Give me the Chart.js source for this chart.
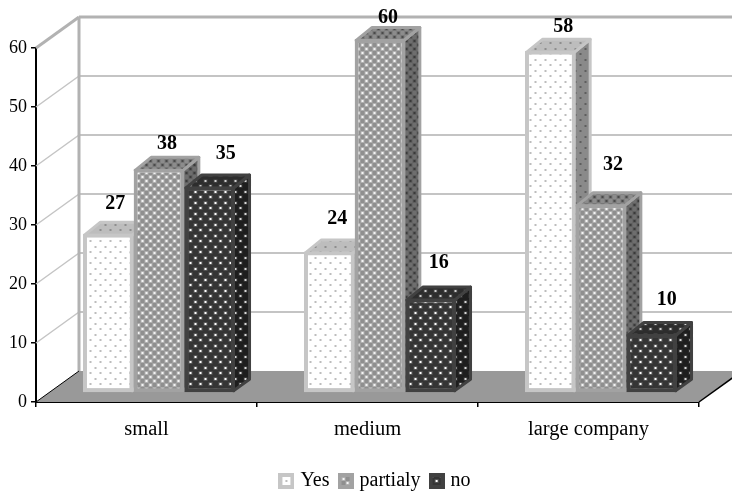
<!DOCTYPE html>
<html>
<head>
<meta charset="utf-8">
<title>Company size chart</title>
<style>html,body{margin:0;padding:0;background:#fff}canvas{display:block}</style>
<script src="https://cdn.jsdelivr.net/npm/chart.js@4/dist/chart.umd.min.js"></script>
</head>
<body>
<canvas id="c" width="732" height="491"></canvas>
<script>
const categories = ['small', 'medium', 'large company'];
const seriesNames = ['Yes', 'partialy', 'no'];
const yesValues = [27, 24, 58];
const partialyValues = [38, 60, 32];
const noValues = [35, 16, 10];
const yTicks = [0, 10, 20, 30, 40, 50, 60];

const SERIF = '"Liberation Serif", "Times New Roman", serif';
const WALL = {x: 43, y: 31};
const BARS = {x: 12.5, y: -9};
const DEPTH = {x: 16, y: 13};
const LABEL_LIFT = [[30, 33, 24], [25, 21, 39], [33, 36, 34]];
const LABEL_NUDGE = [[-1, 0, 5], [0, 0, 4], [8, 0, 7]];

function tile(w, h, bg, paint) {
  const cv = document.createElement('canvas');
  cv.width = w; cv.height = h;
  const g = cv.getContext('2d');
  g.fillStyle = bg; g.fillRect(0, 0, w, h);
  paint(g);
  return g.createPattern(cv, 'repeat');
}
function sparse(bg, dot, halo) {
  return tile(10, 11, bg, g => {
    if (halo) { g.fillStyle = halo; g.fillRect(1, 1, 4, 4); g.fillRect(6, 6, 4, 4); }
    g.fillStyle = dot; g.fillRect(2, 2, 2, 2); g.fillRect(7, 7, 2, 2);
  });
}
function dense(bg, dot, mid) {
  return tile(8, 8, bg, g => {
    g.fillStyle = mid; g.fillRect(0, 0, 4, 4); g.fillRect(4, 4, 4, 4);
    g.fillStyle = dot; g.fillRect(1, 1, 2, 2); g.fillRect(5, 5, 2, 2);
  });
}
const looks = [
  {edge: '#c6c6c6', front: sparse('#ffffff', '#bdbdbd'), top: sparse('#bdbdbd', '#8e8e8e'), side: sparse('#8a8a8a', '#5e5e5e')},
  {edge: '#a2a2a2', front: dense('#8f8f8f', '#f4f4f4', '#b0b0b0'), top: dense('#8c8c8c', '#4a4a4a', '#777777'), side: dense('#6e6e6e', '#3a3a3a', '#5e5e5e')},
  {edge: '#414141', front: sparse('#353535', '#ffffff', '#555555'), top: sparse('#2d2d2d', '#cfcfcf', '#3f3f3f'), side: sparse('#1e1e1e', '#d8d8d8', '#333333')}
];

function swatch(look) {
  const cv = document.createElement('canvas');
  cv.width = 16; cv.height = 16;
  const g = cv.getContext('2d');
  g.fillStyle = look.edge; g.fillRect(0, 0, 16, 16);
  g.fillStyle = look.front; g.fillRect(4, 4, 8, 8);
  return cv;
}
const swatches = looks.map(l => swatch(l));

function poly(ctx, pts, fill, edge) {
  ctx.beginPath();
  pts.forEach((p, i) => i ? ctx.lineTo(p[0], p[1]) : ctx.moveTo(p[0], p[1]));
  ctx.closePath();
  ctx.fillStyle = fill; ctx.fill();
  ctx.strokeStyle = edge; ctx.lineWidth = 3; ctx.lineJoin = 'round'; ctx.stroke();
}

function drawRoom(chart) {
  const {ctx, scales: {x, y}, width} = chart;
  const left = x.left, right = x.right;
  const floor = y.getPixelForValue(0);
  ctx.save();
  ctx.fillStyle = '#999999';
  ctx.beginPath();
  ctx.moveTo(left, floor);
  ctx.lineTo(left + WALL.x, floor - WALL.y);
  ctx.lineTo(right + WALL.x, floor - WALL.y);
  ctx.lineTo(right, floor);
  ctx.closePath();
  ctx.fill();
  yTicks.forEach(t => {
    if (t === 0) return;
    const py = y.getPixelForValue(t);
    const top = t === yTicks[yTicks.length - 1];
    ctx.strokeStyle = top ? '#b2b2b2' : '#c4c4c4';
    ctx.lineWidth = top ? 3 : 1.5;
    ctx.beginPath(); ctx.moveTo(left, py); ctx.lineTo(left + WALL.x, py - WALL.y); ctx.stroke();
    ctx.lineWidth = top ? 3 : 2;
    ctx.beginPath(); ctx.moveTo(left + WALL.x, py - WALL.y); ctx.lineTo(width, py - WALL.y); ctx.stroke();
  });
  ctx.strokeStyle = '#b2b2b2'; ctx.lineWidth = 3;
  ctx.beginPath();
  ctx.moveTo(left + WALL.x, y.getPixelForValue(60) - WALL.y);
  ctx.lineTo(left + WALL.x, floor - WALL.y);
  ctx.stroke();
  ctx.strokeStyle = '#000'; ctx.lineWidth = 1;
  ctx.beginPath(); ctx.moveTo(left, floor); ctx.lineTo(left + WALL.x, floor - WALL.y); ctx.stroke();
  ctx.lineWidth = 1.5;
  ctx.beginPath(); ctx.moveTo(right, floor); ctx.lineTo(right + WALL.x, floor - WALL.y); ctx.stroke();
  ctx.restore();
}

const roomPlugin = {
  id: 'room',
  beforeDatasetsDraw(chart) {
    drawRoom(chart);
    const {ctx} = chart;
    chart.data.datasets.forEach((ds, s) => {
      const look = looks[s];
      const meta = chart.getDatasetMeta(s);
      ctx.save();
      ctx.translate(BARS.x, BARS.y);
      meta.data.forEach(el => {
        const l = el.x - el.width / 2, r = el.x + el.width / 2, t = el.y, b = el.base;
        const ins = 1.5;
        poly(ctx, [[r - ins, b - ins], [r + DEPTH.x - ins, b - DEPTH.y], [r + DEPTH.x - ins, t - DEPTH.y + ins], [r - ins, t + ins]], look.side, look.edge);
        poly(ctx, [[l + ins, t + ins], [l + DEPTH.x + ins, t - DEPTH.y + ins], [r + DEPTH.x - ins, t - DEPTH.y + ins], [r - ins, t + ins]], look.top, look.edge);
      });
      meta.controller.draw();
      ctx.restore();
    });
    return false;
  },
  afterDraw(chart) {
    const {ctx} = chart;
    ctx.save();
    ctx.font = 'bold 20px ' + SERIF;
    ctx.fillStyle = '#000';
    ctx.textAlign = 'center';
    ctx.textBaseline = 'middle';
    chart.data.datasets.forEach((ds, s) => {
      chart.getDatasetMeta(s).data.forEach((el, i) => {
        ctx.fillText(String(ds.data[i]), el.x + BARS.x + DEPTH.x / 2 + LABEL_NUDGE[s][i], el.y + BARS.y - LABEL_LIFT[s][i]);
      });
    });
    ctx.restore();
  },
  afterLayout(chart) {
    const lg = chart.legend;
    lg.top = 459;
    lg.bottom = 491;
    lg.left += 27;
    lg.right += 27;
  }
};

new Chart(document.getElementById('c'), {
  type: 'bar',
  data: {
    labels: categories,
    datasets: [yesValues, partialyValues, noValues].map((values, i) => ({
      label: seriesNames[i],
      data: values,
      clip: false,
      backgroundColor: looks[i].front,
      borderColor: looks[i].edge,
      borderWidth: 4,
      borderSkipped: false,
      categoryPercentage: 0.688,
      barPercentage: 1
    }))
  },
  plugins: [roomPlugin],
  options: {
    responsive: false,
    animation: false,
    layout: {padding: {left: 0, right: 33, top: 48, bottom: 0}},
    plugins: {
      tooltip: {enabled: false},
      title: {display: false},
      legend: {
        position: 'bottom',
        labels: {
          color: '#000',
          font: {family: SERIF, size: 20},
          boxWidth: 8,
          boxHeight: 8,
          padding: 12,
          usePointStyle: true,
          generateLabels: chart => chart.data.datasets.map((ds, i) => ({
            text: ds.label,
            datasetIndex: i,
            fontColor: '#000',
            pointStyle: swatches[i],
            lineWidth: 0,
            strokeStyle: 'transparent',
            fillStyle: looks[i].edge
          }))
        }
      }
    },
    scales: {
      x: {
        type: 'category',
        offset: true,
        afterFit: s => { s.height = 47; },
        border: {display: true, color: '#000', width: 2},
        grid: {offset: true, drawOnChartArea: false, drawTicks: true, tickLength: 5, color: '#000', lineWidth: 1.5},
        ticks: {color: '#000', font: {family: SERIF, size: 20.5}, padding: 10, maxRotation: 0}
      },
      y: {
        min: 0,
        max: 60,
        afterFit: s => { s.width = 36; },
        border: {display: true, color: '#000', width: 2},
        grid: {drawOnChartArea: false, drawTicks: true, tickLength: 5, color: '#000', lineWidth: 1.5},
        afterBuildTicks: s => { s.ticks = yTicks.map(v => ({value: v})); },
        ticks: {color: '#000', font: {family: SERIF, size: 18}, padding: 4}
      }
    }
  }
});
</script>
</body>
</html>
